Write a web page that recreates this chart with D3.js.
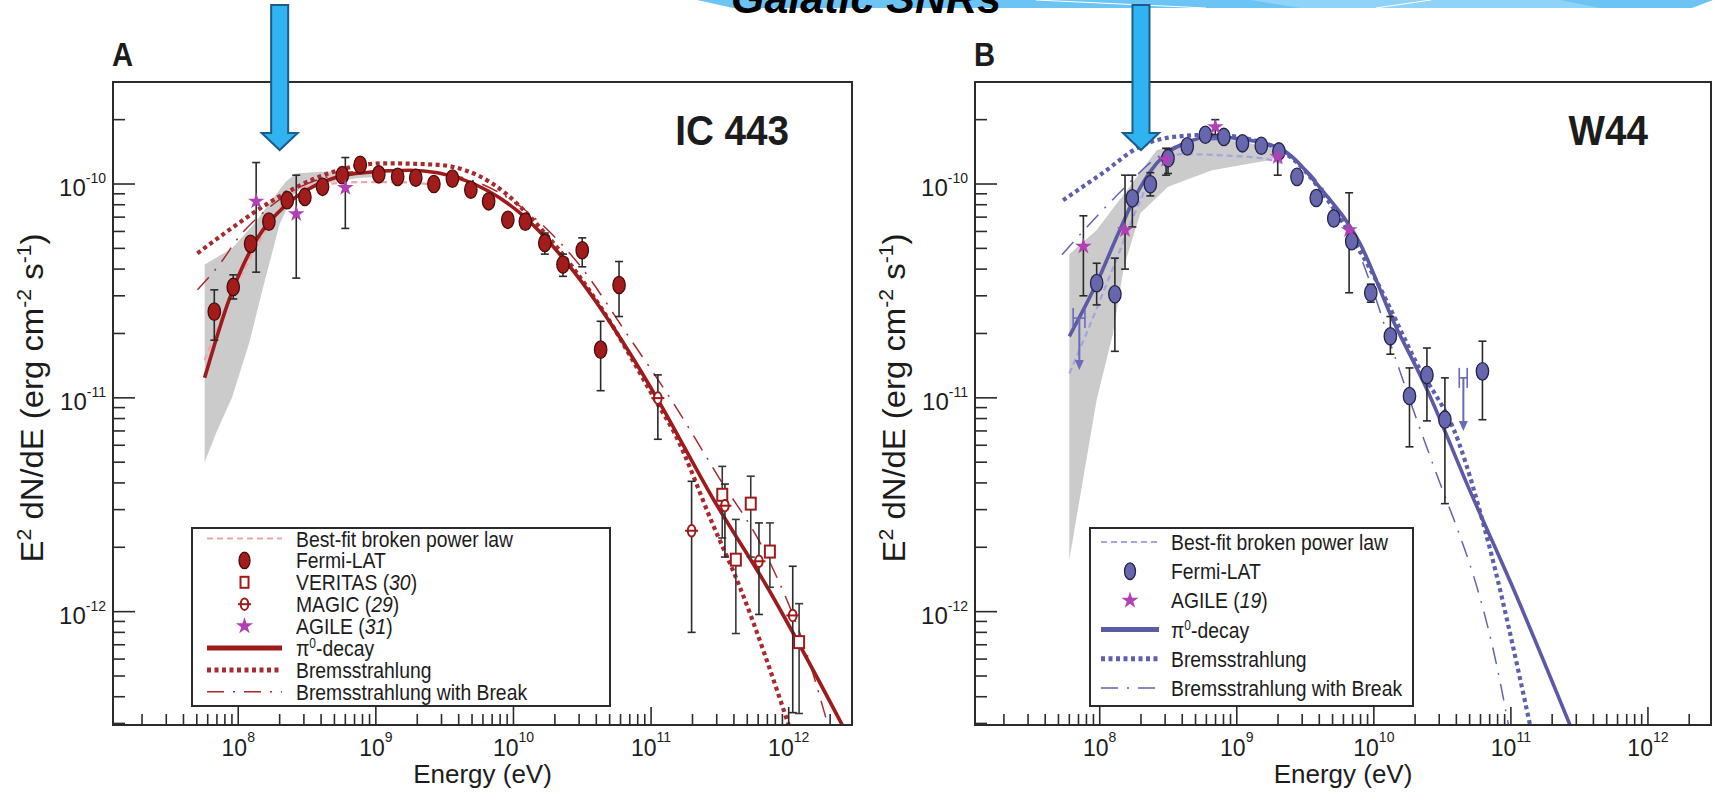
<!DOCTYPE html>
<html><head><meta charset="utf-8">
<script src="https://cdn.jsdelivr.net/npm/d3@7"></script>
<style>
body{margin:0;background:#fff}
svg{display:block}
text{font-family:"Liberation Sans",Arial,Helvetica,sans-serif}
</style>
</head><body>
<svg id="c" width="1715" height="812"></svg>
<script>
// ---------------- DATA ----------------
const energyMajorTicks = [1e8, 1e9, 1e10, 1e11, 1e12];
const energyExponents  = ["8", "9", "10", "11", "12"];
const fluxMajorTicks   = [1e-10, 1e-11, 1e-12];
const fluxExponents    = ["-10", "-11", "-12"];
const energyDomain = [Math.pow(10, 7.09), Math.pow(10, 12.46)];
const fluxDomain   = [2.95e-13, 3.0e-10];
const arrowEnergy  = 2e8;
const bannerTitle  = "Galatic SNRs";
const panelLetters = ["A", "B"];
const sourceNames  = ["IC 443", "W44"];
const xTitle = "Energy (eV)";

// IC 443: [E (eV), E2dN/dE, low, high]
const icFermi = [
  [6.7e7, 2.53e-11, 1.86e-11, 3.2e-11], [9.2e7, 3.3e-11, 2.9e-11, 3.76e-11],
  [1.23e8, 5.25e-11], [1.67e8, 6.67e-11], [2.27e8, 8.4e-11], [3.05e8, 8.7e-11],
  [4.1e8, 9.7e-11], [5.7e8, 1.1e-10], [7.7e8, 1.23e-10], [1.05e9, 1.11e-10],
  [1.44e9, 1.08e-10], [1.95e9, 1.07e-10], [2.64e9, 1.0e-10], [3.6e9, 1.06e-10],
  [4.9e9, 9.4e-11], [6.6e9, 8.3e-11], [9.1e9, 6.8e-11],
  [1.22e10, 6.67e-11, 6.2e-11, 7.2e-11], [1.69e10, 5.3e-11, 4.7e-11, 5.9e-11],
  [2.29e10, 4.2e-11, 3.7e-11, 4.7e-11], [3.16e10, 4.9e-11, 4.1e-11, 5.6e-11],
  [4.3e10, 1.68e-11, 1.08e-11, 2.28e-11], [5.85e10, 3.37e-11, 2.4e-11, 4.34e-11]
];
const icAgile = [
  [1.35e8, 8.3e-11, 3.87e-11, 1.26e-10], [2.64e8, 7.24e-11, 3.63e-11, 1.1e-10],
  [6.0e8, 9.6e-11, 6.2e-11, 1.33e-10]
];
const icVeritas = [
  [3.29e11, 3.52e-12, 2.21e-12, 4.78e-12], [4.13e11, 1.75e-12, 7.9e-13, 2.7e-12],
  [5.3e11, 3.2e-12, 1.8e-12, 4.3e-12], [7.3e11, 1.91e-12, 1.3e-12, 2.6e-12],
  [1.19e12, 7.2e-13, 3.34e-13, 1.09e-12]
];
const icMagic = [
  [1.12e11, 9.97e-12, 6.4e-12, 1.28e-11], [1.97e11, 2.39e-12, 8.0e-13, 4.07e-12],
  [3.44e11, 3.13e-12, 1.8e-12, 3.95e-12], [6.08e11, 1.72e-12, 9.7e-13, 2.6e-12],
  [1.07e12, 9.6e-13, 3.37e-13, 1.63e-12]
];
const icPi0 = [[5.7e7,1.24e-11],[8.6e7,2.89e-11],[1.36e8,5.5e-11],[2.14e8,7.8e-11],[3.7e8,9.9e-11],
  [7.1e8,1.12e-10],[1.77e9,1.16e-10],[4.45e9,1.04e-10],[1.12e10,7.3e-11],[2.8e10,3.83e-11],
  [7e10,1.62e-11],[1.1e11,1.0e-11],[2.8e11,3.4e-12],[7e11,1.3e-12],[2.45e12,2.95e-13]];
const icBrems = [[5.05e7,4.74e-11],[8.6e7,6.1e-11],[1.79e8,8.4e-11],[4.5e8,1.12e-10],[1.12e9,1.25e-10],
  [2.8e9,1.23e-10],[7.1e9,1.0e-10],[1.77e10,5.7e-11],[4.4e10,2.6e-11],[1.1e11,9.5e-12],
  [1.47e11,6.9e-12],[2.78e11,2.6e-12],[4.4e11,1.31e-12],[1.0e12,2.95e-13]];
const icBremsBreak = [[5.05e7,3.2e-11],[7.5e7,4.3e-11],[1.0e8,5.6e-11],[1.5e8,7.3e-11],[2.5e8,9.3e-11],
  [5e8,1.1e-10],[1e9,1.16e-10],[2e9,1.15e-10],[5e9,1.04e-10],[1.2e10,7.6e-11],[3e10,4.2e-11],
  [7e10,1.9e-11],[1.4e11,9.8e-12],[3e11,4.4e-12],[7e11,1.8e-12],[1.33e12,6.6e-13],[1.86e12,3.2e-13]];
const icBestFit = [[5.7e7,1.5e-11],[8.5e7,2.8e-11],[1.4e8,5.3e-11],[2.2e8,8.3e-11],[2.9e8,9.6e-11],
  [4.5e8,1.0e-10],[8e8,1.02e-10],[1.5e9,1.02e-10],[2.4e9,1.0e-10]];
const icBandUpper = [[5.7e7,4.2e-11],[9e7,5.0e-11],[1.3e8,6.5e-11],[1.8e8,8.6e-11],[2.2e8,1.02e-10],
  [2.6e8,1.12e-10],[4e8,1.14e-10],[7e8,1.15e-10],[1e9,1.12e-10]];
const icBandLower = [[5.7e7,5e-12],[7e7,7e-12],[9e7,1.0e-11],[1.2e8,1.8e-11],[1.5e8,3.2e-11],
  [2.0e8,6.5e-11],[2.6e8,9.3e-11],[4e8,1.0e-10],[7e8,1.06e-10],[1e9,1.08e-10]];
const icLegendLabels = ["Best-fit broken power law","Fermi-LAT","VERITAS (30)","MAGIC (29)",
  "AGILE (31)","π0-decay","Bremsstrahlung","Bremsstrahlung with Break"];
const icLegendKinds = ["bestfit","fermi","veritas","magic","agile","pi0","brems","break"];

// W44
const w44Fermi = [
  [9.5e7,3.44e-11,2.72e-11,4.26e-11],[1.29e8,3.05e-11,1.65e-11,4.5e-11],
  [1.73e8,8.57e-11,6.3e-11,1.1e-10],[2.34e8,9.97e-11,8.8e-11,1.13e-10],
  [3.15e8,1.32e-10,1.12e-10,1.46e-10],[4.35e8,1.5e-10],[5.9e8,1.7e-10],[8.05e8,1.66e-10],
  [1.1e9,1.55e-10],[1.51e9,1.51e-10],[2.03e9,1.42e-10],[2.75e9,1.08e-10],[3.8e9,8.6e-11],
  [5.1e9,6.9e-11],[6.9e9,5.4e-11],[9.5e9,3.1e-11,2.8e-11,3.4e-11],
  [1.32e10,1.94e-11,1.6e-11,2.4e-11],[1.82e10,1.02e-11,5.9e-12,1.38e-11],
  [2.44e10,1.28e-11,7.8e-12,1.71e-11],[3.3e10,7.9e-12,3.2e-12,1.24e-11],
  [6.2e10,1.33e-11,7.9e-12,1.84e-11]
];
const w44Agile = [
  [7.6e7,5.1e-11,3.0e-11,7.1e-11],[1.53e8,6.1e-11,4.0e-11,1.1e-10],[3.05e8,1.3e-10,1.1e-10,1.47e-10],
  [6.97e8,1.85e-10,1.7e-10,2.0e-10],[1.99e9,1.34e-10,1.1e-10,1.47e-10],[6.6e9,6.1e-11,3.1e-11,9.1e-11]
];
// upper limits: [E, value, arrow tip, E low, E high]
const w44UpperLimits = [[7.1e7,2.36e-11,1.35e-11,6.4e7,7.8e7],[4.5e10,1.24e-11,7.0e-12,4.2e10,4.8e10]];
const w44Pi0 = [[6e7,1.94e-11],[9.5e7,3.44e-11],[1.37e8,5.9e-11],[1.81e8,8.7e-11],[2.6e8,1.25e-10],
  [4.15e8,1.55e-10],[6.6e8,1.66e-10],[1.26e9,1.6e-10],[2.18e9,1.44e-10],[4.16e9,9.4e-11],
  [7.9e9,5.3e-11],[1.38e10,2.3e-11],[2.4e10,1.12e-11],[5e10,3.7e-12],[1e11,1.36e-12],[2.7e11,2.95e-13]];
const w44Brems = [[5.4e7,8.4e-11],[1.04e8,1.12e-10],[1.98e8,1.5e-10],[3.45e8,1.66e-10],[6.6e8,1.7e-10],
  [1.5e9,1.57e-10],[2.6e9,1.3e-10],[5e9,7.8e-11],[1.05e10,3.5e-11],[2e10,1.5e-11],[4.2e10,6.1e-12],
  [6.6e10,2.3e-12],[1.38e11,2.95e-13]];
const w44BremsBreak = [[5.3e7,4.67e-11],[1.49e8,9.5e-11],[2.5e8,1.3e-10],[5e8,1.6e-10],[1e9,1.62e-10],
  [2e9,1.45e-10],[4e9,1.0e-10],[7e9,5.6e-11],[1e10,3.1e-11],[1.32e10,1.8e-11],[1.64e10,1.2e-11],
  [2.07e10,7.8e-12],[2.58e10,5.3e-12],[8.4e10,4.6e-13],[9.6e10,2.95e-13]];
const w44BestFit = [[6e7,1.3e-11],[8e7,2.0e-11],[1.26e8,4.1e-11],[1.98e8,8.4e-11],[2.77e8,1.3e-10],
  [4e8,1.38e-10],[8e8,1.36e-10],[1.5e9,1.32e-10],[2.2e9,1.25e-10]];
const w44BandUpper = [[6e7,4.7e-11],[9.5e7,6.1e-11],[1.65e8,9.7e-11],[2.6e8,1.44e-10],[5e8,1.6e-10],
  [1e9,1.6e-10],[2e9,1.45e-10]];
const w44BandLower = [[6e7,1.75e-12],[9.5e7,9.8e-12],[1.25e8,2.0e-11],[1.5e8,4.1e-11],[1.98e8,7.3e-11],
  [3.15e8,9.7e-11],[6.6e8,1.16e-10],[1.8e9,1.3e-10],[2e9,1.35e-10]];
const w44LegendLabels = ["Best-fit broken power law","Fermi-LAT","AGILE (19)","π0-decay",
  "Bremsstrahlung","Bremsstrahlung with Break"];
const w44LegendKinds = ["bestfit","fermi","agile","pi0","brems","break"];

// ---------------- DRAWING ----------------
const svg = d3.select("#c");
svg.append("rect").attr("width",1715).attr("height",812).attr("fill","#fff");
const TEXT = "#1c1c1c";
const TOP = 82, BOT = 725;
const yScale = d3.scaleLog().domain(fluxDomain).range([BOT, TOP]);

// banner
const ban = svg.append("g");
ban.append("path").attr("d","M697,0 L733,8 L1692,8 L1713,0 Z").attr("fill","#6cc4f4");
ban.append("path").attr("d","M1250,0 L1300,8 L1600,8 L1560,0 Z").attr("fill","#8fd3f8");
ban.append("path").attr("d","M1036,0 L1206,8").attr("stroke","#fff").attr("stroke-width",1);
ban.append("path").attr("d","M1376,8 L1431,0").attr("stroke","#fff").attr("stroke-width",1);
ban.append("text").attr("x",731).attr("y",12.5).attr("font-size",43).attr("font-weight","bold")
  .attr("font-style","italic").attr("fill","#000").text(bannerTitle);

function minorTicks(dom){
  const out=[];
  for(let d=-14; d<=13; d++) for(let m=2;m<=9;m++){
    const v = m*Math.pow(10,d);
    if(v>dom[0]*1.0001 && v<dom[1]*0.9999) out.push(v);
  }
  return out;
}

function ctext(parent,x,y,sx,size,weight,anchor){
  return parent.append("text").attr("transform",`translate(${x},${y}) scale(${sx},1)`)
    .attr("font-size",size).attr("font-weight",weight||"normal")
    .attr("text-anchor",anchor||"start").attr("fill",TEXT);
}

function richLabel(t,label){
  const m = label.match(/^(.*)\((\d+)\)$/);
  if(label.startsWith("π0")){
    t.append("tspan").text("π");
    t.append("tspan").attr("font-size","0.62em").attr("dy",-8).text("0");
    t.append("tspan").attr("dy",8).text(label.slice(2));
  } else if(m){
    t.append("tspan").text(m[1]+"(");
    t.append("tspan").attr("font-style","italic").text(m[2]);
    t.append("tspan").text(")");
  } else t.text(label);
}

function errorBars(g,x,data,color){
  data.filter(d=>d.length>=4).forEach(d=>{
    const xx=x(d[0]), y1=yScale(d[2]), y2=yScale(d[3]);
    g.append("line").attr("x1",xx).attr("x2",xx).attr("y1",y1).attr("y2",y2)
      .attr("stroke",color).attr("stroke-width",1.6);
    [y1,y2].forEach(yy=>g.append("line").attr("x1",xx-4).attr("x2",xx+4).attr("y1",yy).attr("y2",yy)
      .attr("stroke",color).attr("stroke-width",1.6));
  });
}

function markerFermi(g,cx,cy,c,rx,ry){
  g.append("ellipse").attr("cx",cx).attr("cy",cy).attr("rx",rx).attr("ry",ry)
    .attr("fill",c.fermi).attr("stroke",c.fermiEdge).attr("stroke-width",1.3);
}
function markerStar(g,cx,cy,size){
  g.append("path").attr("transform",`translate(${cx},${cy})`)
    .attr("d",d3.symbol().type(d3.symbolStar).size(size)()).attr("fill","#b040b4");
}
function markerSquare(g,cx,cy,c,w,h){
  g.append("rect").attr("x",cx-w/2).attr("y",cy-h/2).attr("width",w).attr("height",h)
    .attr("fill","#fff").attr("stroke",c.line).attr("stroke-width",2);
}
function markerMagic(g,cx,cy,c){
  g.append("ellipse").attr("cx",cx).attr("cy",cy).attr("rx",3.8).attr("ry",5.8)
    .attr("fill","#fff").attr("stroke",c.line).attr("stroke-width",2);
  g.append("line").attr("x1",cx-6.5).attr("x2",cx+6.5).attr("y1",cy).attr("y2",cy)
    .attr("stroke",c.line).attr("stroke-width",2);
}

const lineStyles = {
  pi0:     {w:3.6, dash:null},
  brems:   {w:4.2, dash:"4,3.5"},
  break:   {w:1.5, dash:"17,9,2,9"},
  bestfit: {w:2.2, dash:"6,4"}
};

function drawPanel(p, idx){
  const x = d3.scaleLog().domain(energyDomain).range(p.range);
  const [L,R] = p.range;
  const g = svg.append("g");
  const clipId = "clip"+idx;
  svg.append("clipPath").attr("id",clipId).append("rect")
    .attr("x",L).attr("y",TOP).attr("width",R-L).attr("height",BOT-TOP);
  const pg = g.append("g").attr("clip-path",`url(#${clipId})`);
  const pt = d => [x(d[0]), yScale(d[1])];
  // band
  const band = p.bandUpper.concat(p.bandLower.slice().reverse());
  pg.append("path").attr("d", d3.line()(band.map(pt))+"Z").attr("fill","#cbcbcb");
  // curves
  const line = d3.line().x(d=>x(d[0])).y(d=>yScale(d[1])).curve(d3.curveMonotoneX);
  const curves = [["bestfit",p.bestFit,p.c.best],["break",p.bremsBreak,p.c.brk],
                  ["brems",p.brems,p.c.brems],["pi0",p.pi0,p.c.line]];
  curves.forEach(([k,data,col])=>{
    const s=lineStyles[k];
    pg.append("path").attr("d",line(data)).attr("fill","none").attr("stroke",col)
      .attr("stroke-width",s.w).attr("stroke-dasharray",s.dash);
  });
  // error bars
  errorBars(pg,x,p.fermi,"#2a2a2a");
  errorBars(pg,x,p.agile,"#2a2a2a");
  if(p.veritas) errorBars(pg,x,p.veritas,"#3a3a3a");
  if(p.magic) errorBars(pg,x,p.magic,"#2a2a2a");
  // upper limits
  (p.uls||[]).forEach(u=>{
    const col="#6a6ab6", xx=x(u[0]), yy=yScale(u[1]), yt=yScale(u[2]);
    pg.append("line").attr("x1",x(u[3])).attr("x2",x(u[4])).attr("y1",yy).attr("y2",yy).attr("stroke",col).attr("stroke-width",1.6);
    [u[3],u[4]].forEach(e=>pg.append("line").attr("x1",x(e)).attr("x2",x(e)).attr("y1",yy-10).attr("y2",yy+10).attr("stroke",col).attr("stroke-width",1.6));
    pg.append("line").attr("x1",xx).attr("x2",xx).attr("y1",yy).attr("y2",yt-8).attr("stroke",col).attr("stroke-width",2);
    pg.append("path").attr("d",`M${xx-4.5},${yt-10} L${xx+4.5},${yt-10} L${xx},${yt} Z`).attr("fill",col);
  });
  // markers
  if(p.veritas) p.veritas.forEach(d=>markerSquare(pg,x(d[0]),yScale(d[1]),p.c,10,12));
  if(p.magic) p.magic.forEach(d=>markerMagic(pg,x(d[0]),yScale(d[1]),p.c));
  p.fermi.forEach(d=>markerFermi(pg,x(d[0]),yScale(d[1]),p.c,6.2,8.7));
  p.agile.forEach(d=>markerStar(pg,x(d[0]),yScale(d[1]),85));

  // frame
  g.append("rect").attr("x",L).attr("y",TOP).attr("width",R-L).attr("height",BOT-TOP)
    .attr("fill","none").attr("stroke","#2b2b2b").attr("stroke-width",2);
  // ticks
  const tk = g.append("g").attr("stroke","#2b2b2b").attr("stroke-width",1.6);
  energyMajorTicks.forEach(v=>tk.append("line").attr("x1",x(v)).attr("x2",x(v)).attr("y1",BOT).attr("y2",BOT-18));
  minorTicks(energyDomain).forEach(v=>tk.append("line").attr("x1",x(v)).attr("x2",x(v)).attr("y1",BOT).attr("y2",BOT-11));
  fluxMajorTicks.forEach(v=>tk.append("line").attr("x1",L).attr("x2",L+22).attr("y1",yScale(v)).attr("y2",yScale(v)));
  minorTicks(fluxDomain).forEach(v=>tk.append("line").attr("x1",L).attr("x2",L+12).attr("y1",yScale(v)).attr("y2",yScale(v)));
  // tick labels
  energyMajorTicks.forEach((v,i)=>{
    const t=g.append("text").attr("x",x(v)).attr("y",756).attr("text-anchor","middle")
      .attr("font-size",23).attr("fill",TEXT);
    t.append("tspan").text("10");
    t.append("tspan").attr("font-size",14).attr("dy",-14).text(energyExponents[i]);
  });
  fluxMajorTicks.forEach((v,i)=>{
    const t=g.append("text").attr("x",L-7).attr("y",yScale(v)+12).attr("text-anchor","end")
      .attr("font-size",24).attr("fill",TEXT);
    t.append("tspan").text("10");
    t.append("tspan").attr("font-size",14).attr("dy",-13).text(fluxExponents[i]);
  });
  // axis titles
  g.append("text").attr("x",(L+R)/2).attr("y",783).attr("text-anchor","middle")
    .attr("font-size",26).attr("fill",TEXT).text(xTitle);
  const yt = g.append("text").attr("transform",`translate(${L-70},398) rotate(-90) scale(1.06,1)`)
    .attr("text-anchor","middle").attr("font-size",31).attr("fill",TEXT);
  yt.append("tspan").text("E");
  yt.append("tspan").attr("font-size",20).attr("dy",-12).text("2");
  yt.append("tspan").attr("dy",12).text(" dN/dE (erg cm");
  yt.append("tspan").attr("font-size",20).attr("dy",-12).text("-2");
  yt.append("tspan").attr("dy",12).text(" s");
  yt.append("tspan").attr("font-size",20).attr("dy",-12).text("-1");
  yt.append("tspan").attr("dy",12).text(")");
  // panel letter & source name
  ctext(g,L-1,66,0.86,34,"bold").text(panelLetters[idx]);
  ctext(g,R-63,145,0.92,42,"bold","end").text(sourceNames[idx]);

  // legend
  const lg = p.legend;
  g.append("rect").attr("x",lg.box[0]).attr("y",lg.box[1]).attr("width",lg.box[2]-lg.box[0])
    .attr("height",lg.box[3]-lg.box[1]).attr("fill","#fff").attr("stroke","#2b2b2b").attr("stroke-width",2);
  lg.labels.forEach((lab,i)=>{
    const ry = lg.y0 + i*lg.dy, kind = lg.kinds[i];
    const cx = (lg.sx[0]+lg.sx[1])/2;
    if(lineStyles[kind]){
      const s = lineStyles[kind];
      const col = {pi0:p.c.line, brems:p.c.brems, break:p.c.brk, bestfit:p.c.best}[kind];
      g.append("line").attr("x1",lg.sx[0]).attr("x2",lg.sx[1]).attr("y1",ry).attr("y2",ry)
        .attr("stroke",col).attr("stroke-width",kind==="pi0"?5:(kind==="brems"?5:s.w)).attr("stroke-dasharray",s.dash);
    } else if(kind==="fermi") markerFermi(g,cx,ry,p.c,5.5,8.3);
    else if(kind==="veritas") markerSquare(g,cx,ry,p.c,8,11);
    else if(kind==="magic") markerMagic(g,cx,ry,p.c);
    else if(kind==="agile") markerStar(g,cx,ry,90);
    richLabel(ctext(g,lg.tx,ry+8,0.86,22.5),lab);
  });

  // annotation arrow at the pion bump
  const ax = x(arrowEnergy);
  g.append("path").attr("d",`M${ax-8.5},5 L${ax+8.5},5 L${ax+8.5},133 L${ax+18},133 L${ax},150 L${ax-18},133 L${ax-8.5},133 Z`)
    .attr("fill","#2fb4f1").attr("stroke","#1b5c8a").attr("stroke-width",2).attr("stroke-linejoin","miter");
}

const panels = [
  {range:[113,852], fermi:icFermi, agile:icAgile, veritas:icVeritas, magic:icMagic,
   pi0:icPi0, brems:icBrems, bremsBreak:icBremsBreak, bestFit:icBestFit,
   bandUpper:icBandUpper, bandLower:icBandLower,
   c:{line:"#9e1b1b", brems:"#a82a2e", brk:"#a82a2e", best:"#f5a3a6", fermi:"#a31c1c", fermiEdge:"#4a0b0b"},
   legend:{box:[192,528,610,706], y0:538.5, dy:21.9, sx:[207,282], tx:296, labels:icLegendLabels, kinds:icLegendKinds}},
  {range:[975,1711], fermi:w44Fermi, agile:w44Agile, uls:w44UpperLimits,
   pi0:w44Pi0, brems:w44Brems, bremsBreak:w44BremsBreak, bestFit:w44BestFit,
   bandUpper:w44BandUpper, bandLower:w44BandLower,
   c:{line:"#5b5ba5", brems:"#5f5fae", brk:"#6262b4", best:"#a4a4e0", fermi:"#6767ad", fermiEdge:"#23234d"},
   legend:{box:[1090,528,1413,706], y0:542, dy:29.2, sx:[1101,1159], tx:1171, labels:w44LegendLabels, kinds:w44LegendKinds}}
];
panels.forEach(drawPanel);
</script>
</body></html>
